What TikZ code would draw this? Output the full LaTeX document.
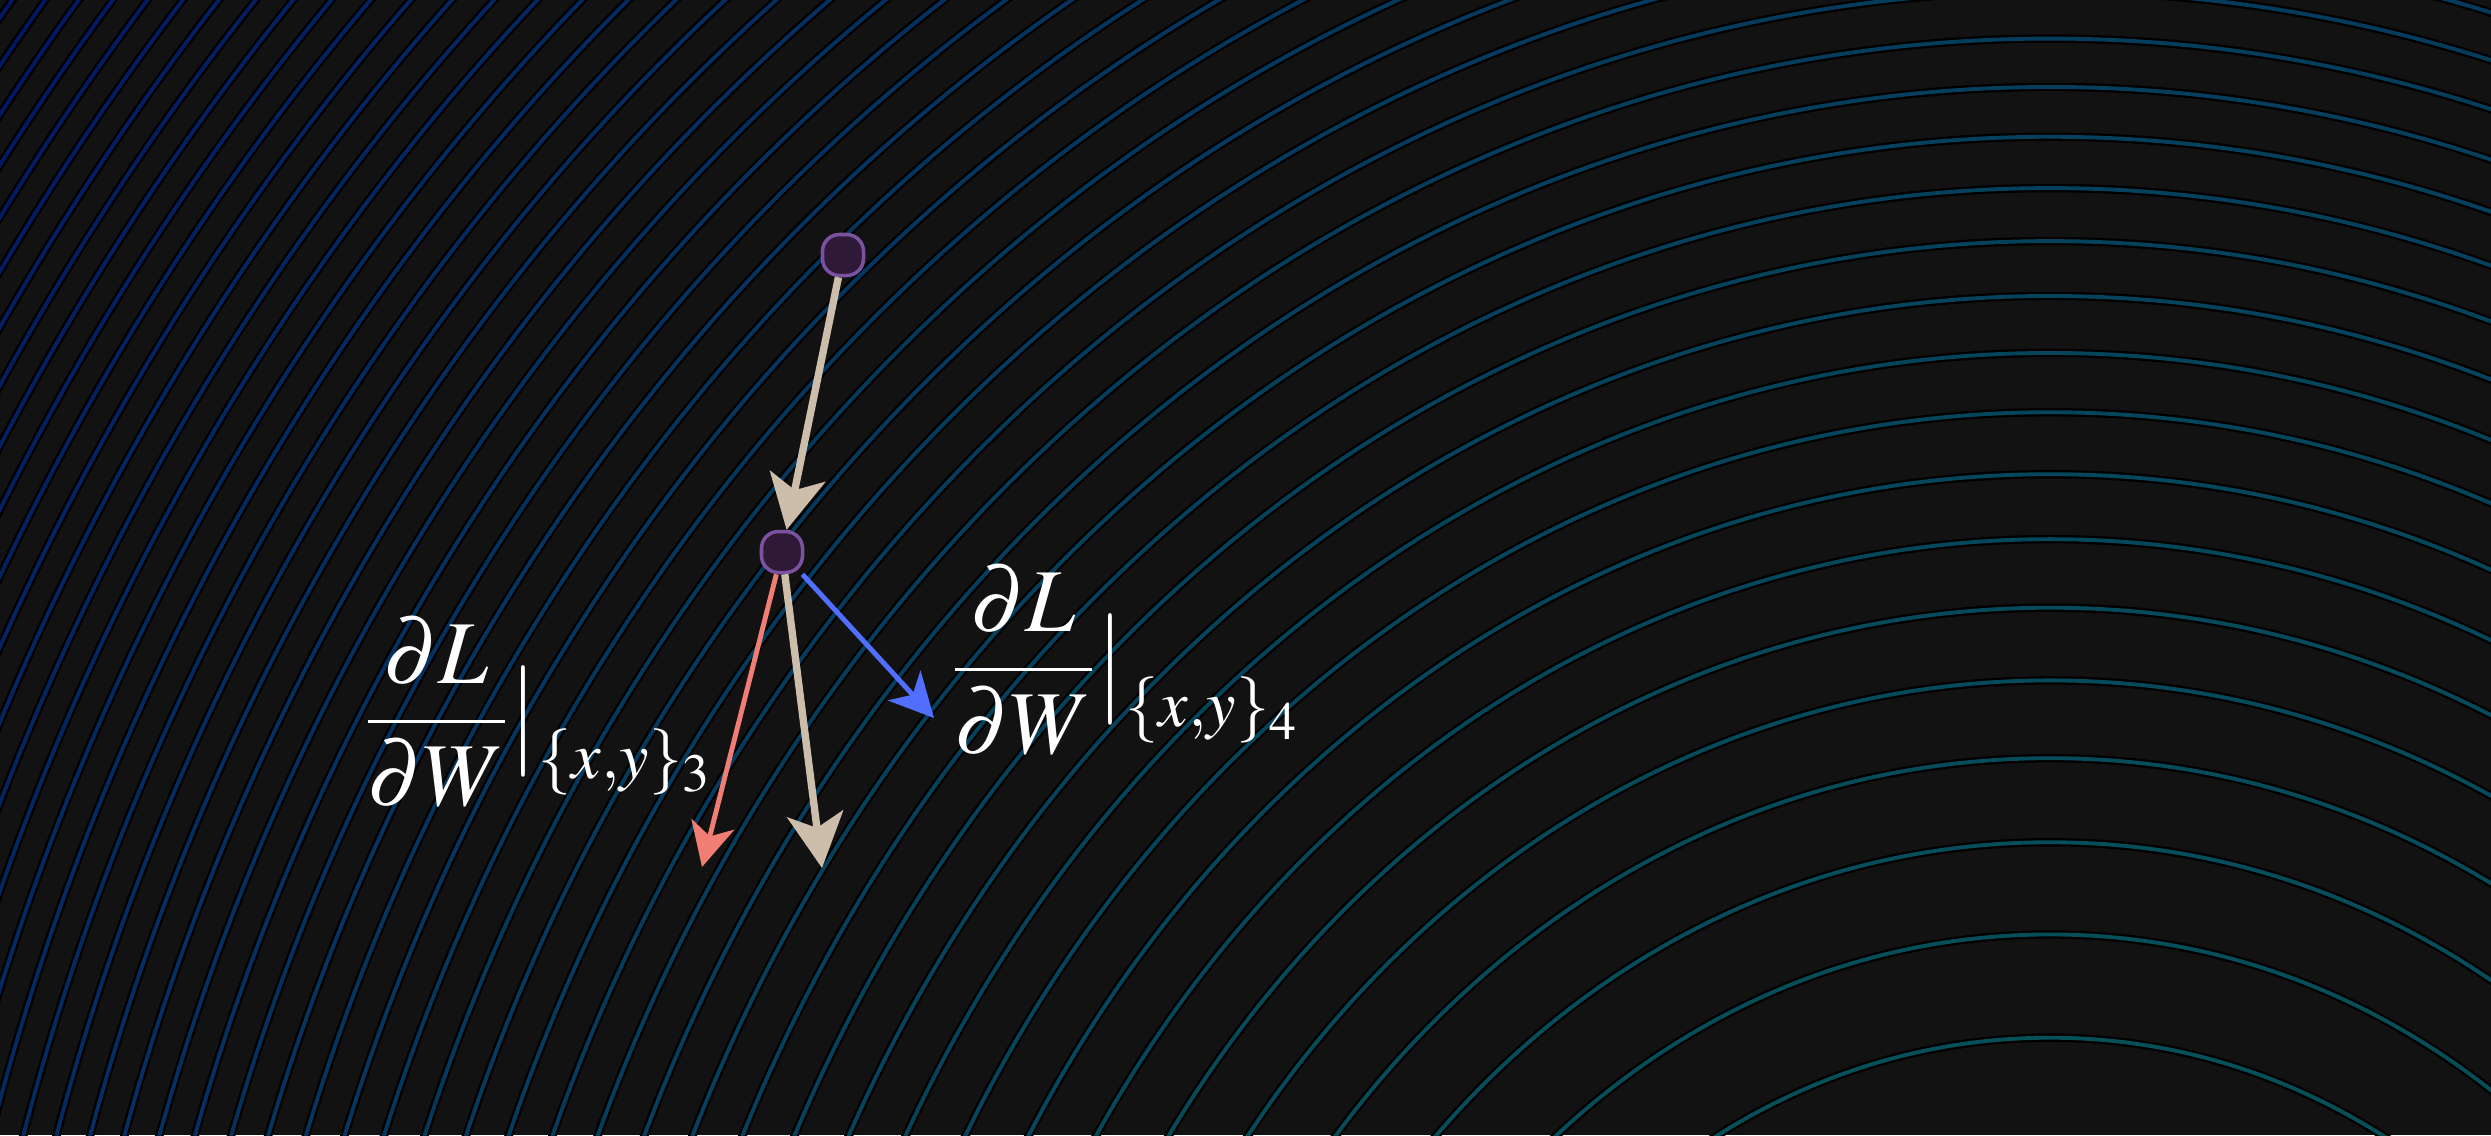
\documentclass[tikz,border=0pt]{standalone}
\usepackage{mathptmx}
\usepackage{xcolor}
\usepackage{tikz}
\usetikzlibrary{arrows.meta,positioning}
\definecolor{bgdark}{RGB}{18,18,18}
\definecolor{cin}{RGB}{6,80,90}
\definecolor{cout}{RGB}{2,22,100}
\definecolor{dotfill}{RGB}{46,26,54}
\definecolor{dotedge}{RGB}{124,82,160}
\definecolor{stepbeige}{RGB}{205,189,171}
\definecolor{gradred}{RGB}{240,126,116}
\definecolor{gradblue}{RGB}{82,110,255}

\begin{document}
\begin{tikzpicture}[x=0.01cm,y=-0.01cm,
    wdot/.style={draw=dotedge,fill=dotfill,line width=1pt,
                 rounded corners=4.8pt,minimum size=0.41cm,inner sep=0pt},
    gradlbl/.style={text=white,inner sep=0pt,
                    font=\fontsize{25.5}{30}\selectfont},
    move/.style={draw=stepbeige,line width=2.1pt,
                 -{Stealth[length=15.5pt,width=16pt,inset=4pt]}},
    grad/.style={line width=1.4pt,
                 -{Stealth[length=12.5pt,width=12.5pt,inset=3.5pt]}}]
  \useasboundingbox (0,0) rectangle (2491,1135);
  \fill[bgdark] (0,0) rectangle (2491,1135);

  % loss contours
  \begin{scope}
    \clip (0,0) rectangle (2491,1135);
    \foreach \i in {0,...,47}{
      \pgfmathsetmacro\rb{410*sqrt(\i+3.457)}
      \pgfmathsetmacro\ra{0.89*\rb}
      \pgfmathtruncatemacro\mixp{round(100*\i/47)}
      \colorlet{lvl}{cout!\mixp!cin}
      \draw[black,line width=2.4pt] (2050,1800) ellipse [x radius=\ra, y radius=\rb];
      \draw[lvl,line width=1.1pt] (2050,1800) ellipse [x radius=\ra, y radius=\rb];
    }
  \end{scope}

  % weights before and after the step
  \node[wdot] (w1) at (843,255) {};
  \node[wdot] (w2) at (782,552) {};

  \coordinate (g3tip) at (702,867);
  \coordinate (steptip) at (822,868);
  \coordinate (g4tip) at (934,718);

  \draw[move] (w1) -- (w2);
  \draw[move] (w2) -- (steptip);
  \draw[grad,gradred] (w2) -- (g3tip);
  \draw[grad,gradblue] (w2) -- (g4tip);

  \node[gradlbl,anchor=west] (d3) at (363,712)
    {$\displaystyle\frac{\partial L}{\partial W}\big|_{\{x,y\}_3}$};
  \node[gradlbl,anchor=west] (d4) at (950,660)
    {$\displaystyle\frac{\partial L}{\partial W}\big|_{\{x,y\}_4}$};
\end{tikzpicture}
\end{document}
